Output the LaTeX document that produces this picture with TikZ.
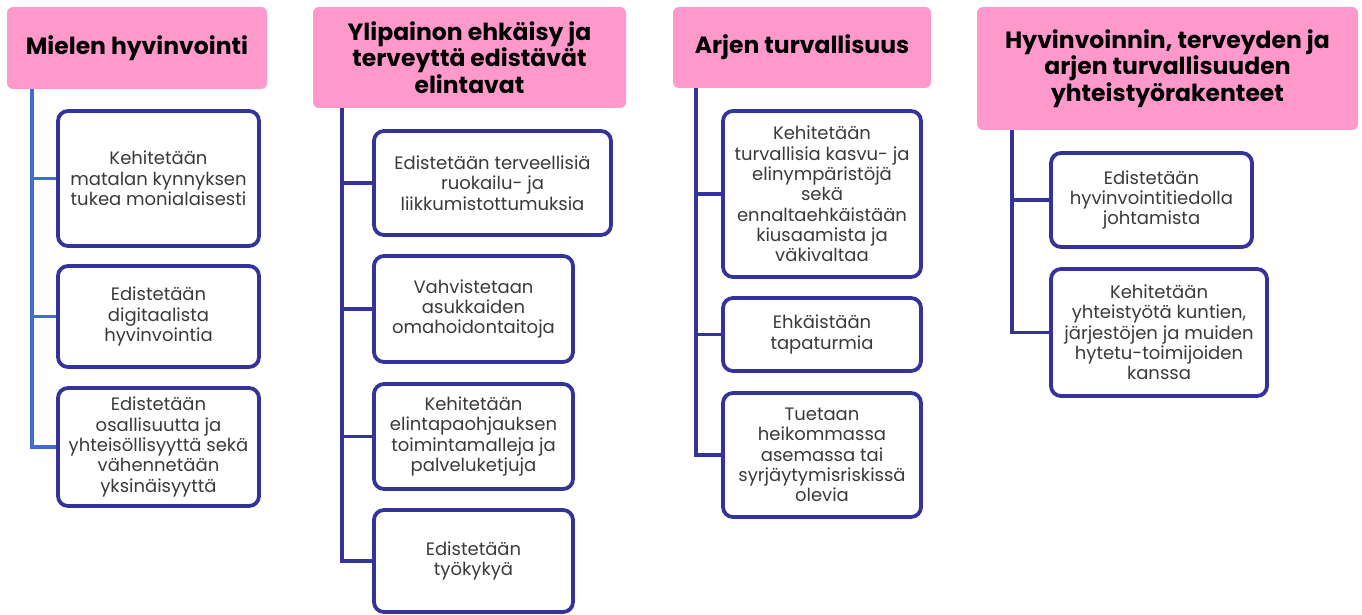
\documentclass[tikz,border=0pt]{standalone}
\usepackage{fontspec}
\setmainfont{Poppins}
\definecolor{hpink}{HTML}{FF99CC}
\definecolor{navy}{HTML}{333399}
\definecolor{lblue}{HTML}{3F6FCB}
\definecolor{bodytxt}{HTML}{3A3A3A}
\begin{document}
\begin{tikzpicture}[x=1pt,y=-1pt,
 head/.style={fill=hpink, rounded corners=6pt, inner sep=0pt, align=center, font=\fontsize{23.5}{26.5}\selectfont\bfseries, text=black},
 item/.style={draw=navy, line width=3.8pt, fill=white, rounded corners=10pt, inner sep=0pt, align=center, font=\fontsize{18}{20.3}\selectfont, text=bodytxt},
 conn/.style={draw=navy, line width=3.8pt},
 conna/.style={draw=lblue, line width=3.8pt},
]
\useasboundingbox (0,0) rectangle (1362,615);
% column 1
\node[head, minimum width=260pt, minimum height=82pt] (h1) at (137,48) {Mielen hyvinvointi};
\coordinate (t1) at (32,89);
\node[item, minimum width=201pt, minimum height=135pt] (b11) at (158.5,178.5) {Kehitetään\\matalan kynnyksen\\tukea monialaisesti};
\node[item, minimum width=201pt, minimum height=101pt] (b12) at (158.5,316.5) {Edistetään\\digitaalista\\hyvinvointia};
\node[item, minimum width=201pt, minimum height=118pt] (b13) at (158.5,447) {Edistetään\\osallisuutta ja\\yhteisöllisyyttä sekä\\vähennetään\\yksinäisyyttä};
\draw[conna] (t1) |- (b13.west);
\draw[conna] (t1 |- b11.west) -- (b11.west);
\draw[conna] (t1 |- b12.west) -- (b12.west);
% column 2
\node[head, minimum width=313pt, minimum height=101pt] (h2) at (469.5,57.5) {Ylipainon ehkäisy ja\\terveyttä edistävät\\elintavat};
\coordinate (t2) at (342,108);
\node[item, minimum width=237pt, minimum height=104pt] (b21) at (492.5,183) {Edistetään terveellisiä\\ruokailu- ja\\liikkumistottumuksia};
\node[item, minimum width=199pt, minimum height=106pt] (b22) at (473.5,309) {Vahvistetaan\\asukkaiden\\omahoidontaitoja};
\node[item, minimum width=199pt, minimum height=105pt] (b23) at (473.5,436.5) {Kehitetään\\elintapaohjauksen\\toimintamalleja ja\\palveluketjuja};
\node[item, minimum width=199pt, minimum height=102pt] (b24) at (473.5,561) {Edistetään\\työkykyä};
\draw[conn] (t2) |- (b24.west);
\draw[conn] (t2 |- b21.west) -- (b21.west);
\draw[conn] (t2 |- b22.west) -- (b22.west);
\draw[conn] (t2 |- b23.west) -- (b23.west);
% column 3
\node[head, minimum width=258pt, minimum height=81pt] (h3) at (802,47.5) {Arjen turvallisuus};
\coordinate (t3) at (696,88);
\node[item, minimum width=198pt, minimum height=166pt] (b31) at (822,194) {Kehitetään\\turvallisia kasvu- ja\\elinympäristöjä\\sekä\\ennaltaehkäistään\\kiusaamista ja\\väkivaltaa};
\node[item, minimum width=198pt, minimum height=73pt] (b32) at (822,334.5) {Ehkäistään\\tapaturmia};
\node[item, minimum width=198pt, minimum height=124pt] (b33) at (822,455) {Tuetaan\\heikommassa\\asemassa tai\\syrjäytymisriskissä\\olevia};
\draw[conn] (t3) |- (b33.west);
\draw[conn] (t3 |- b31.west) -- (b31.west);
\draw[conn] (t3 |- b32.west) -- (b32.west);
% column 4
\node[head, minimum width=381pt, minimum height=123pt] (h4) at (1167.5,68.5) {Hyvinvoinnin, terveyden ja\\arjen turvallisuuden\\yhteistyörakenteet};
\coordinate (t4) at (1012,130);
\node[item, minimum width=201pt, minimum height=94pt] (b41) at (1151.5,200) {Edistetään\\hyvinvointitiedolla\\johtamista};
\node[item, minimum width=216pt, minimum height=127pt] (b42) at (1159,332.5) {Kehitetään\\yhteistyötä kuntien,\\järjestöjen ja muiden\\hytetu-toimijoiden\\kanssa};
\draw[conn] (t4) |- (b42.west);
\draw[conn] (t4 |- b41.west) -- (b41.west);
\end{tikzpicture}
\end{document}
